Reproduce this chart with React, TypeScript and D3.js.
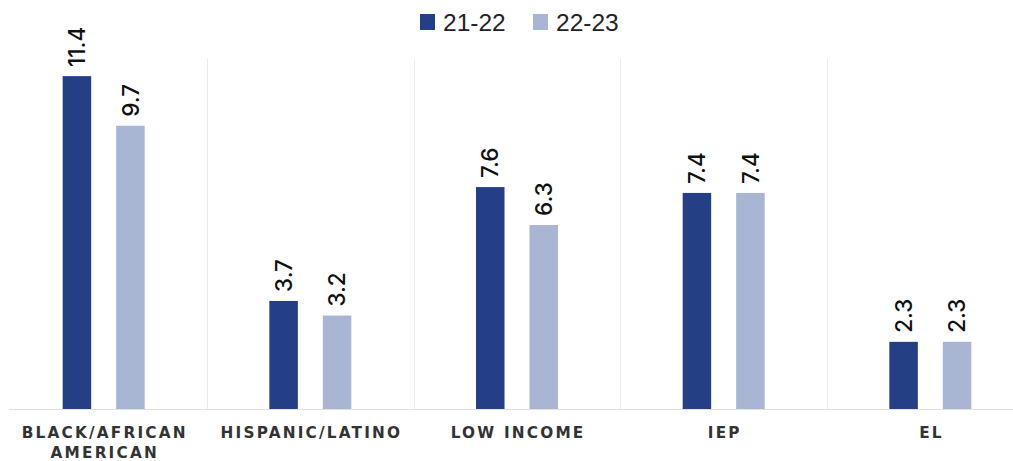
import React from "react";
import * as d3 from "d3";

// Chart data
const categories = ["BLACK/AFRICAN|AMERICAN", "HISPANIC/LATINO", "LOW INCOME", "IEP", "EL"];
const seriesNames = ["21-22", "22-23"];
const values2122 = [11.4, 3.7, 7.6, 7.4, 2.3];
const values2223 = [9.7, 3.2, 6.3, 7.4, 2.3];
const seriesColors = ["#243f86", "#a8b5d3"];

const W = 1013;
const H = 461;
const baseY = 409;

export default function App() {
  const seriesValues = [values2122, values2223];

  const x0 = d3.scaleBand<string>().domain(categories).range([0.33, 1033.67]).padding(0);
  const x1 = d3.scaleBand<string>().domain(seriesNames).range([-41, 41]).paddingInner(0.467).paddingOuter(0);
  const y = d3.scaleLinear().domain([0, 12]).range([baseY, baseY - 12 * 29.2]);

  const fmt = d3.format(".1f");

  return (
    <svg width={W} height={H} style={{ position: "absolute", left: 0, top: 0, background: "#fff" }}>
      {/* category separators */}
      {categories.slice(1).map((c) => (
        <line key={c} x1={Math.round(x0(c)!) + 0.5} x2={Math.round(x0(c)!) + 0.5} y1={y(12)} y2={baseY} stroke="#ececec" strokeWidth={1} />
      ))}
      {/* baseline */}
      <line x1={9} x2={W} y1={baseY + 0.5} y2={baseY + 0.5} stroke="#e2e2e2" strokeWidth={1.2} />

      {/* bars and value labels */}
      {categories.map((c, ci) => {
        const cx = x0(c)! + x0.bandwidth() / 2;
        return (
          <g key={c}>
            {seriesNames.map((s, si) => {
              const v = seriesValues[si][ci];
              const bx = cx + x1(s)!;
              const bw = x1.bandwidth();
              const top = y(v);
              return (
                <g key={s}>
                  <rect x={bx} y={top} width={bw} height={baseY - top} fill={seriesColors[si]} />
                  <text
                    transform={`translate(${bx + bw / 2},${top - 9}) rotate(-90)`}
                    dy="0.36em"
                    textAnchor="start"
                    fontFamily="Inter, 'DejaVu Sans', sans-serif"
                    fontWeight={500}
                    fontSize={22.5}
                    fill="#111"
                  >
                    {fmt(v)}
                  </text>
                </g>
              );
            })}
            <text
              textAnchor="middle"
              fontFamily="'DejaVu Sans', sans-serif"
              fontWeight={700}
              fontSize={15.3}
              letterSpacing={2.2}
              fill="#333"
            >
              {c.split("|").map((line, li) => (
                <tspan key={li} x={cx + 1.1} y={438 + li * 19.5}>
                  {line}
                </tspan>
              ))}
            </text>
          </g>
        );
      })}

      {/* legend */}
      {seriesNames.map((s, si) => {
        const lx = [420, 533][si];
        return (
          <g key={s}>
            <rect x={lx} y={14} width={15} height={16} fill={seriesColors[si]} />
            <text x={lx + 23} y={31} fontFamily="'Liberation Sans', Arial, sans-serif" fontSize={24.5} fill="#222">
              {s}
            </text>
          </g>
        );
      })}
    </svg>
  );
}
